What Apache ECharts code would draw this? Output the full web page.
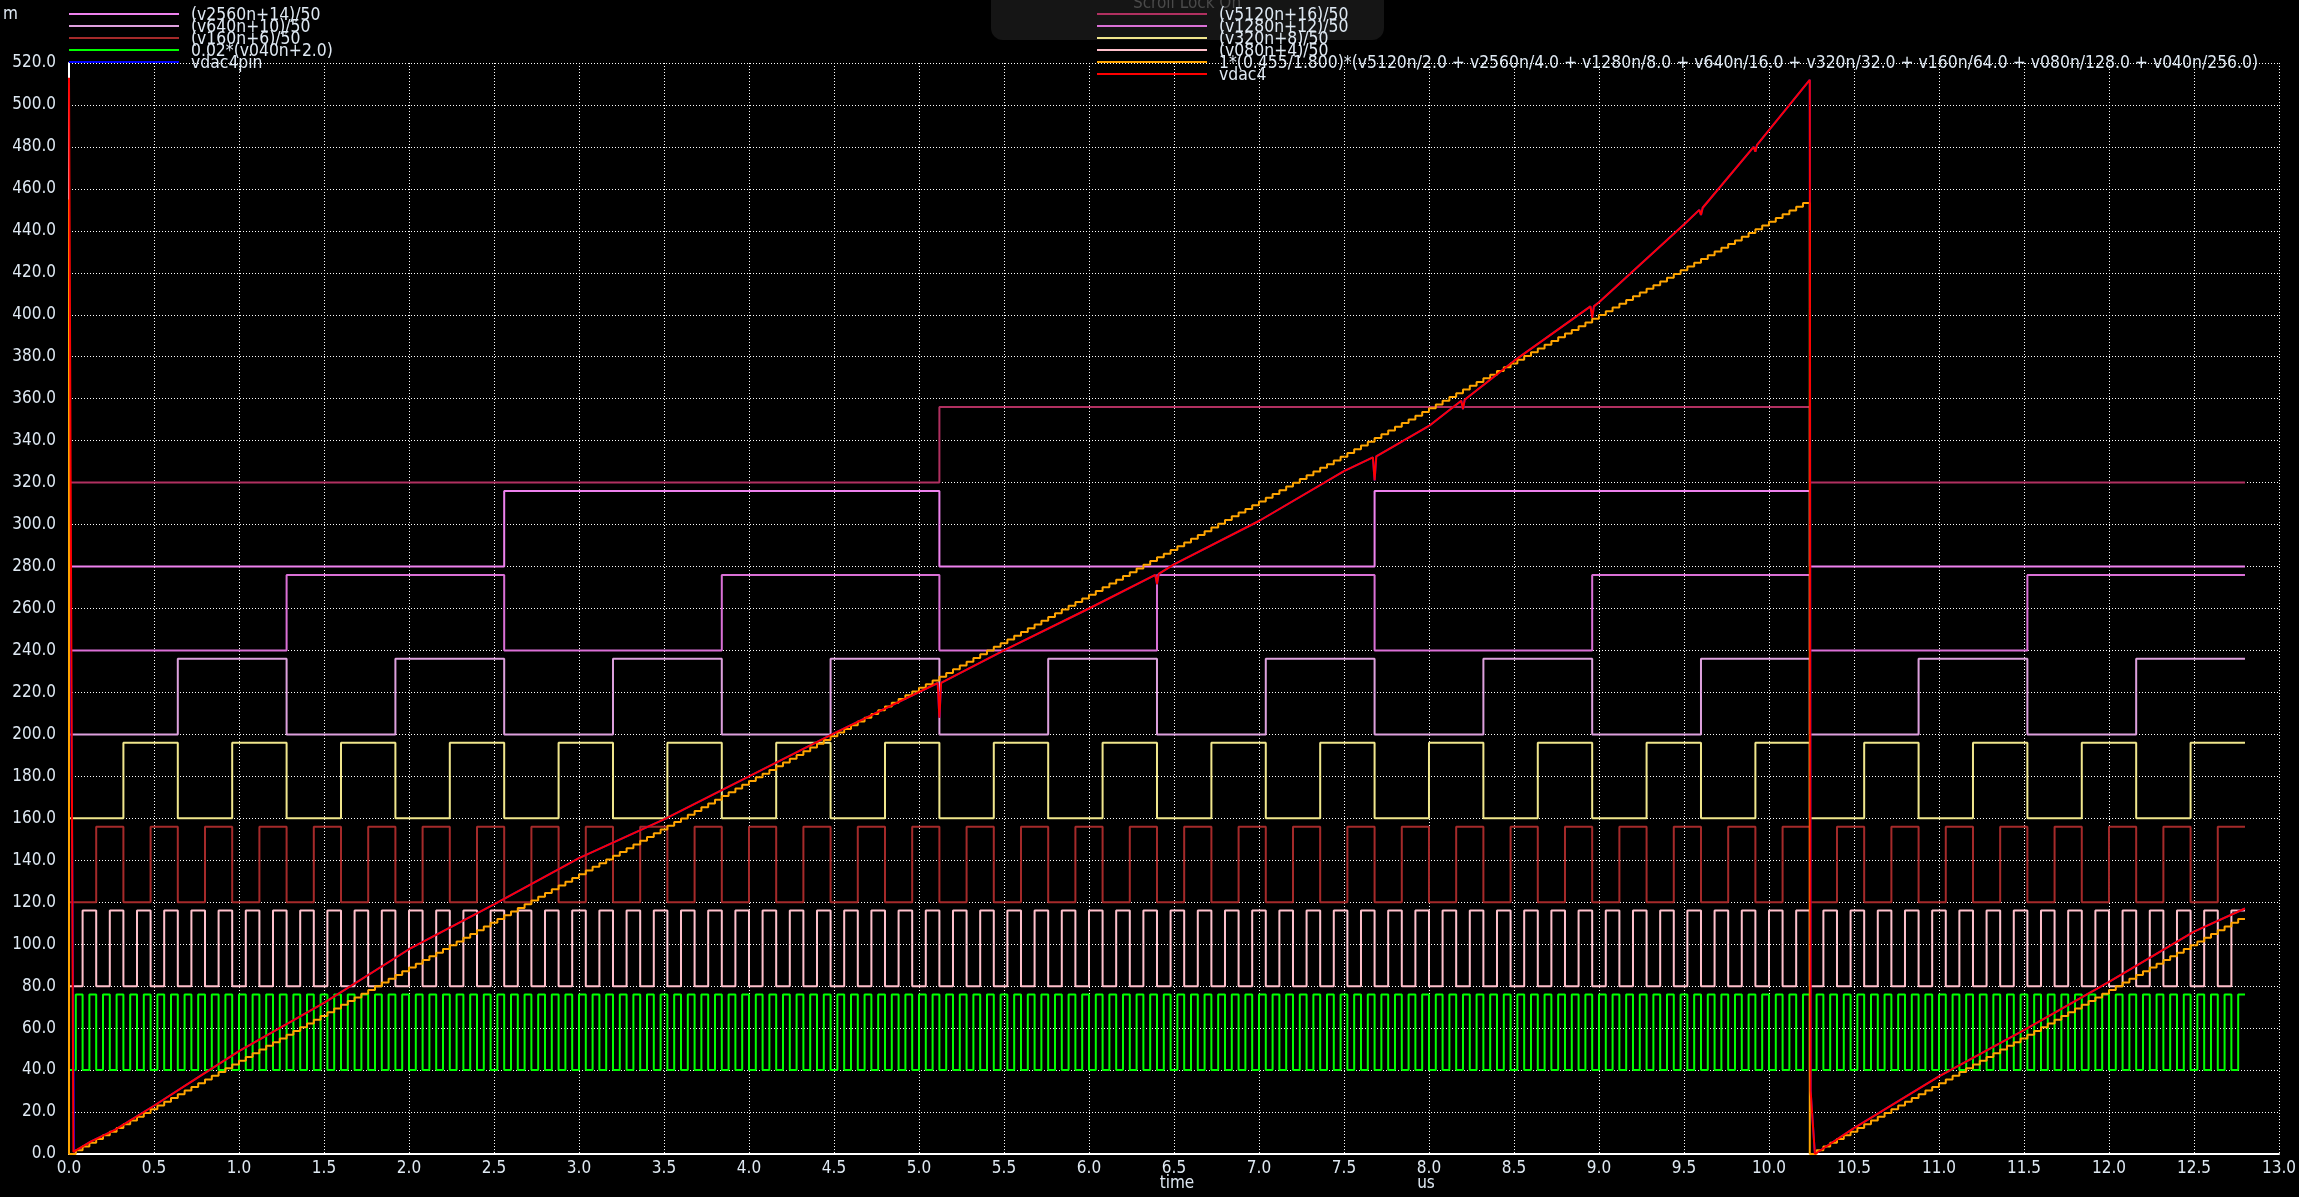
<!DOCTYPE html>
<html>
<head>
<meta charset="utf-8">
<title>vdac4</title>
<script src="https://cdn.jsdelivr.net/npm/echarts@6/dist/echarts.min.js"></script>
<style>
html, body { margin: 0; padding: 0; background: #000; }
#chart { width: 2299px; height: 1197px; }
</style>
</head>
<body>
<div id="chart"></div>
<script>
// digital inputs, plotted as (vXn + k)/50 in mV
const bitNames = [ '(v2560n+14)/50', '(v640n+10)/50', '(v160n+6)/50', '0.02*(v040n+2.0)',
	'(v5120n+16)/50', '(v1280n+12)/50', '(v320n+8)/50', '(v080n+4)/50' ];
const bitHalfPeriods = [ 2.56, 0.64, 0.16, 0.04, 5.12, 1.28, 0.32, 0.08 ]; // us
const bitLow = [ 280, 200, 120, 40, 320, 240, 160, 80 ];
const bitHigh = [ 316, 236, 156, 76, 356, 276, 196, 116 ];
// divisor of each bit in the ideal dac expression
const bitDivisors = [ 4, 16, 64, 256, 2, 8, 32, 128 ];
const simEnd = 12.8; // us
const lsbTime = 0.04; // us

const idealName = '1*(0.455/1.800)*(v5120n/2.0 + v2560n/4.0 + v1280n/8.0 + v640n/16.0 + v320n/32.0 + v160n/64.0 + v080n/128.0 + v040n/256.0)';
const idealStart = 455;

// vdac4: [us, mV]
const vdac4 = [
	[ 0, 513 ], [ 0.026, 1 ], [ 0.13, 6 ], [ 0.27, 11.5 ], [ 0.5, 23 ], [ 0.72, 34.5 ],
	[ 1.0, 49 ], [ 1.5, 72 ], [ 2.0, 97.6 ], [ 2.5, 119 ], [ 3.0, 141 ], [ 3.5, 159.5 ],
	[ 4.0, 180 ], [ 4.5, 200.5 ], [ 5.11, 224.5 ], [ 5.12, 208 ], [ 5.13, 224.5 ], [ 5.5, 240 ],
	[ 6.0, 260 ], [ 6.39, 276 ], [ 6.4, 271.6 ], [ 6.41, 276.5 ], [ 6.5, 281 ], [ 7.0, 301.7 ],
	[ 7.5, 325.5 ], [ 7.67, 332 ], [ 7.68, 321 ], [ 7.69, 332.5 ], [ 8.0, 347 ], [ 8.19, 359 ],
	[ 8.2, 355 ], [ 8.21, 359.5 ], [ 8.5, 378 ], [ 8.95, 404 ], [ 8.96, 398.5 ], [ 8.97, 404 ],
	[ 9.0, 406 ], [ 9.5, 443 ], [ 9.59, 450 ], [ 9.6, 447.6 ], [ 9.61, 451 ], [ 9.91, 480 ],
	[ 9.92, 477.7 ], [ 9.93, 481 ], [ 10.0, 488 ], [ 10.24, 512 ], [ 10.245, 30 ], [ 10.27, 0 ],
	[ 10.5, 12.3 ], [ 11.0, 37 ], [ 11.5, 59 ], [ 12.0, 82 ], [ 12.5, 106 ], [ 12.8, 117 ]
];
// vdac4pin sits under vdac4 except at the start
const vdac4pinStart = [ [ 0, 383 ], [ 0.03, 1 ] ];

const yTicks = { min: 0, max: 520, step: 20 };
const xTicks = { min: 0, max: 13, step: 0.5 };

const bitColors = [ '#ee82ee', '#dda0dd', '#a52a2a', '#00ff00', '#b03060', '#da70d6', '#f0e68c', '#ffc0cb' ];
const textColor = '#dfe9f3';
const font = '"DejaVu Sans Condensed", "DejaVu Sans", sans-serif';

const bitHighAt = ( i, t ) => Math.floor( t / bitHalfPeriods[ i ] + 1e-9 ) % 2 === 1;

const squareWave = ( i ) => {
	const pts = [];
	const hp = bitHalfPeriods[ i ];
	for ( let k = 0; k * hp < simEnd - 1e-9; k++ ) {
		const lvl = k % 2 ? bitHigh[ i ] : bitLow[ i ];
		pts.push( [ k * hp, lvl ], [ Math.min( ( k + 1 ) * hp, simEnd ), lvl ] );
	}
	return pts;
};

// ideal dac output from the bit states, as in the legend
const idealDac = () => {
	const pts = [ [ 0, idealStart ] ];
	for ( let k = 0; k * lsbTime < simEnd - 1e-9; k++ ) {
		const tm = ( k + 0.5 ) * lsbTime;
		let sum = 0;
		bitNames.forEach( ( n, i ) => {
			if ( bitHighAt( i, tm ) ) {
				sum += 1.8 / bitDivisors[ i ];
			}
		} );
		const v = 1000 * ( 0.455 / 1.8 ) * sum;
		pts.push( [ k * lsbTime, v ], [ ( k + 1 ) * lsbTime, v ] );
	}
	return pts;
};

const lineSeries = ( name, data, color, z ) => ( {
	name,
	type: 'line',
	data,
	z,
	showSymbol: false,
	silent: true,
	animation: false,
	lineStyle: { color, width: 2 },
	emphasis: { disabled: true }
} );

const series = bitNames.map( ( n, i ) => lineSeries( n, squareWave( i ), bitColors[ i ], 2 ) );
series.push( lineSeries( 'vdac4pin', vdac4pinStart.concat( vdac4.slice( 2 ) ), '#0000ff', 3 ) );
series.push( lineSeries( idealName, idealDac(), '#ffa500', 4 ) );
series.push( lineSeries( 'vdac4', vdac4, '#ff0000', 5 ) );

// legend drawn by hand: rows overlap like in the viewer
const legendCols = [
	{ x: 69, names: [ bitNames[ 0 ], bitNames[ 1 ], bitNames[ 2 ], bitNames[ 3 ], 'vdac4pin' ],
		colors: [ bitColors[ 0 ], bitColors[ 1 ], bitColors[ 2 ], bitColors[ 3 ], '#0000ff' ] },
	{ x: 1097, names: [ bitNames[ 4 ], bitNames[ 5 ], bitNames[ 6 ], bitNames[ 7 ], idealName, 'vdac4' ],
		colors: [ bitColors[ 4 ], bitColors[ 5 ], bitColors[ 6 ], bitColors[ 7 ], '#ffa500', '#ff0000' ] }
];

const graphic = [
	{
		type: 'rect', z: 0,
		shape: { x: 991, y: -14, width: 393, height: 54, r: 12 },
		style: { fill: '#151515' }
	},
	{
		type: 'text', z: 1, x: 1187, y: 4,
		style: { text: 'Scroll Lock On', fill: '#4a4a4a', font: '17px ' + font, textAlign: 'center', textVerticalAlign: 'middle' }
	},
	{
		type: 'text', x: 3, y: 15,
		style: { text: 'm', fill: textColor, font: '17px ' + font, textVerticalAlign: 'middle' }
	},
	{
		type: 'text', x: 1177, y: 1184,
		style: { text: 'time', fill: textColor, font: '17px ' + font, textAlign: 'center', textVerticalAlign: 'middle' }
	},
	{
		type: 'text', x: 1426, y: 1184,
		style: { text: 'us', fill: textColor, font: '17px ' + font, textAlign: 'center', textVerticalAlign: 'middle' }
	}
];
legendCols.forEach( ( col ) => {
	col.names.forEach( ( n, i ) => {
		const y = 14 + 12 * i;
		graphic.push( {
			type: 'line', z: 10,
			shape: { x1: col.x, y1: y, x2: col.x + 110, y2: y },
			style: { stroke: col.colors[ i ], lineWidth: 2 }
		} );
		graphic.push( {
			type: 'text', z: 10, x: col.x + 122, y: y + 1,
			style: { text: n, fill: textColor, font: '17.4px ' + font, textVerticalAlign: 'middle' }
		} );
	} );
} );

const gridLine = { show: true, lineStyle: { color: '#ffffff', width: 1, type: [ 1, 2 ] } };

const chart = echarts.init( document.getElementById( 'chart' ), null, { renderer: 'canvas' } );
chart.setOption( {
	backgroundColor: '#000000',
	animation: false,
	grid: { left: 69, right: 20, top: 63, bottom: 43 },
	xAxis: {
		type: 'value',
		min: xTicks.min,
		max: xTicks.max,
		interval: xTicks.step,
		axisLine: { show: true, lineStyle: { color: '#ffffff', width: 2 } },
		axisTick: { show: false },
		axisLabel: {
			color: textColor, fontSize: 17, fontFamily: font, margin: 6,
			formatter: ( v ) => v.toFixed( 1 )
		},
		splitLine: gridLine
	},
	yAxis: {
		type: 'value',
		min: yTicks.min,
		max: yTicks.max,
		interval: yTicks.step,
		axisLine: { show: true, lineStyle: { color: '#ffffff', width: 2 } },
		axisTick: { show: false },
		axisLabel: {
			color: textColor, fontSize: 17, fontFamily: font, margin: 13,
			formatter: ( v ) => v.toFixed( 1 )
		},
		splitLine: gridLine
	},
	series,
	graphic
} );
</script>
</body>
</html>
